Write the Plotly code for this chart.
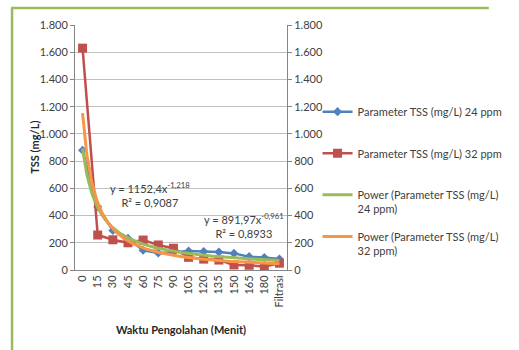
import numpy as np
import plotly.graph_objects as go

categories = ["0", "15", "30", "45", "60", "75", "90", "105", "120", "135", "150", "165", "180", "Filtrasi"]
tss_24ppm = [880, 465, 290, 232, 145, 125, 130, 140, 135, 132, 122, 98, 91, 80]
tss_32ppm = [1630, 257, 222, 200, 220, 184, 160, 93, 80, 73, 37, 35, 25, 50]

# power trendline coefficients as displayed in the chart
fit24_a, fit24_b = 891.97, -0.961
fit32_a, fit32_b = 1152.4, -1.218

y_ticks = [0, 200, 400, 600, 800, 1000, 1200, 1400, 1600, 1800]

xpos = list(range(1, len(categories) + 1))
xs = np.linspace(1, len(categories), 300)

FONT = "Lato"
BLUE = "#4f81bd"
RED = "#c0504d"
GREEN = "#9bbb59"
ORANGE = "#f79646"
TXT = "#404040"

fig = go.Figure()
fig.add_trace(go.Scatter(
    x=xpos, y=tss_24ppm, mode="lines+markers",
    name="Parameter TSS (mg/L) 24 ppm<br>\u00a0", legendgroup="a",
    line=dict(color=BLUE, width=2.5),
    marker=dict(symbol="diamond", size=7, color=BLUE),
))
fig.add_trace(go.Scatter(
    x=xpos, y=tss_32ppm, mode="lines+markers",
    name="Parameter TSS (mg/L) 32 ppm<br>\u00a0", legendgroup="b",
    line=dict(color=RED, width=2.5),
    marker=dict(symbol="square", size=9, color=RED),
))
fig.add_trace(go.Scatter(
    x=xs, y=fit24_a * xs ** fit24_b, mode="lines", yaxis="y2",
    name="Power (Parameter TSS (mg/L)<br>24 ppm)", legendgroup="c",
    line=dict(color=GREEN, width=3),
))
fig.add_trace(go.Scatter(
    x=xs, y=fit32_a * xs ** fit32_b, mode="lines", yaxis="y2",
    name="Power (Parameter TSS (mg/L)<br>32 ppm)", legendgroup="d",
    line=dict(color=ORANGE, width=3),
))

L, R, T, B = 75, 215, 25, 80
W, H = 519, 350
pw, ph = W - L - R, H - T - B

def px_x(px):
    return (px - L) / pw

def px_y(py):
    return (H - B - py) / ph

yaxis_common = dict(
    range=[0, 1800], tickvals=y_ticks, tickformat=",d",
    ticks="outside", ticklen=4, tickcolor="#868686",
    showline=True, linecolor="#868686", linewidth=1,
    tickfont=dict(family=FONT, size=11, color=TXT),
    zeroline=False,
)

fig.update_layout(
    width=W, height=H,
    margin=dict(l=L, r=R, t=T, b=B),
    paper_bgcolor="white", plot_bgcolor="white",
    separators=",.",
    font=dict(family=FONT, size=11, color=TXT),
    xaxis=dict(
        range=[0.5, len(categories) + 0.5],
        tickvals=xpos, ticktext=categories, tickangle=-90,
        showline=True, linecolor="#868686", linewidth=1,
        ticks="", showgrid=False, zeroline=False, automargin=True,
        tickfont=dict(family=FONT, size=11, color=TXT),
        title=dict(text="<b>Waktu Pengolahan (Menit)</b>", standoff=19,
                   font=dict(family=FONT, size=11, color="#262626")),
    ),
    yaxis=dict(
        **yaxis_common,
        showgrid=True, gridcolor="#bfbfbf", gridwidth=1,
    ),
    yaxis2=dict(
        **yaxis_common,
        overlaying="y", side="right", showgrid=False,
    ),
    legend=dict(
        x=px_x(337), y=px_y(98), xanchor="left", yanchor="top",
        font=dict(family=FONT, size=11, color=TXT),
        valign="top", tracegroupgap=10, bgcolor="rgba(0,0,0,0)",
    ),
    showlegend=True,
)

# y-axis title
fig.add_annotation(
    x=px_x(31), y=0.5, xref="paper", yref="paper",
    text="<b>TSS (mg/L)</b>", textangle=-90, showarrow=False,
    xanchor="center", yanchor="middle",
    font=dict(family=FONT, size=11, color="#262626"),
)

fig.add_annotation(
    x=5.45, y=558, xref="x", yref="y",
    text="y = 1152,4x<sup>-1,218</sup><br>R² = 0,9087",
    showarrow=False, align="center",
    font=dict(family=FONT, size=11, color=TXT),
)
fig.add_annotation(
    x=11.69, y=330, xref="x", yref="y",
    text="y = 891,97x<sup>-0,961</sup><br>R² = 0,8933",
    showarrow=False, align="center",
    font=dict(family=FONT, size=11, color=TXT),
)

# green chart-area frame (left and top edges visible)
fig.add_shape(type="line", xref="paper", yref="paper",
              x0=px_x(7), y0=px_y(8), x1=px_x(7), y1=px_y(352),
              line=dict(color=GREEN, width=2.5))
fig.add_shape(type="line", xref="paper", yref="paper",
              x0=px_x(6), y0=px_y(8), x1=px_x(522), y1=px_y(8),
              line=dict(color=GREEN, width=2.5))

fig.write_html("out.html")
